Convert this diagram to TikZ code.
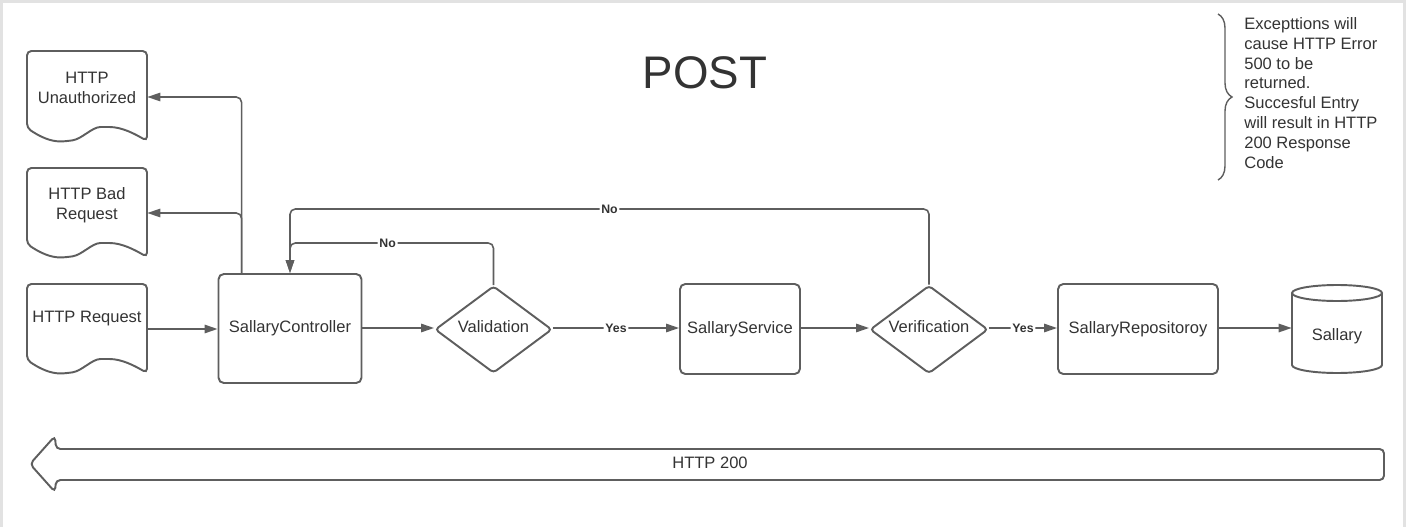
\documentclass[tikz,border=0pt]{standalone}
\usepackage{fontspec}
\setmainfont{Liberation Sans}
\usetikzlibrary{arrows.meta,shapes.geometric,decorations.pathreplacing,calc}
\definecolor{ln}{HTML}{5E5E5E}
\definecolor{tx}{HTML}{333333}
\definecolor{frm}{HTML}{E2E2E2}
\newcommand\mydocshape[3]{%
  \draw[shp, rounded corners=2.5pt] (#1,#3)
    .. controls (#1+18,#3+12) and (#1+28,#3+14) .. (#1+41,#3+13)
    .. controls (#1+55,#3+11) and (#1+65,#3-1) .. (#1+78,#3-1)
    .. controls (#1+95,#3-1) and (#1+108,#3+6) .. (#1+120,#3+13)
    -- (#1+120,#2) -- (#1,#2) -- cycle;}
\begin{document}
\begin{tikzpicture}[x=0.02cm,y=-0.02cm,
  font=\fontsize{9.4}{11.3}\selectfont, text=tx,
  shp/.style={draw=ln, line width=1.1pt},
  box/.style={shp, rectangle, rounded corners=3pt, inner sep=0pt},
  dia/.style={shp, diamond, rounded corners=2pt, inner sep=0pt},
  holder/.style={rectangle, inner sep=0pt},
  conn/.style={draw=ln, line width=0.9pt, rounded corners=3pt, -{Triangle[length=7.4pt,width=4.8pt]}},
  lbl/.style={fill=white, font=\fontsize{7}{8}\selectfont\bfseries, inner sep=1pt, text=tx}]
\useasboundingbox (0,0) rectangle (1406,527);
% frame
\draw[frm, line width=2pt] (1.5,527) -- (1.5,1.5) -- (1404.5,1.5) -- (1404.5,527);

% title
\node[font=\fontsize{26}{30}\selectfont] (title) at (705,72.5) {POST};

% note with brace
\draw[ln, line width=0.8pt, decorate, decoration={brace, amplitude=0.28cm}] (1218,14) -- (1218,180);
\node[anchor=north west, align=left, inner sep=0pt] (note) at (1244,17)
  {Excepttions will\\cause HTTP Error\\500 to be\\returned.\\Succesful Entry\\will result in HTTP\\200 Response\\Code};

% documents
\mydocshape{27}{51}{128}
\node[holder, minimum width=2.4cm, minimum height=1.84cm] (unauth) at (87,97) {};
\node[align=center] (unauthT) at (87,88) {HTTP\\Unauthorized};

\mydocshape{27}{168}{244}
\node[holder, minimum width=2.4cm, minimum height=1.8cm] (bad) at (87,213) {};
\node[align=center] (badT) at (87,205) {HTTP Bad\\Request};

\mydocshape{27}{284}{360}
\node[holder, minimum width=2.4cm, minimum height=1.8cm] (req) at (87,329) {};
\node (reqT) at (87,319) {HTTP Request};

% process nodes
\node[box, minimum width=2.86cm, minimum height=2.18cm] (ctrl) at (290,328.5) {SallaryController};
\node[dia, minimum width=2.34cm, minimum height=1.74cm] (val) at (493.5,329.5) {};
\node (valT) at (493.5,327) {Validation};
\node[box, minimum width=2.4cm, minimum height=1.8cm] (svc) at (740,329) {SallaryService};
\node[dia, minimum width=2.36cm, minimum height=1.76cm] (ver) at (929,329.5) {};
\node (verT) at (929,327) {Verification};
\node[box, minimum width=3.2cm, minimum height=1.8cm] (repo) at (1138,329) {SallaryRepositoroy};

% cylinder
\node[holder, minimum width=1.8cm, minimum height=1.78cm] (db) at (1337,328) {};
\draw[shp] (1292,293) -- (1292,365) arc[start angle=180, end angle=360, x radius=0.9cm, y radius=0.16cm] -- (1382,293);
\draw[shp] (1337,293) ellipse [x radius=45, y radius=8];
\node (dbT) at (1337,336) {Sallary};

% connectors
\draw[conn] (req.east) -- (ctrl.west |- req.east);
\draw[conn] ($(ctrl.north west)+(24,0)$) |- (unauth.east);
\draw[conn] ($(ctrl.north west)+(24,0)$) |- (bad.east);
\draw[conn] (ctrl.east |- 0,328) -- (val.west |- 0,328);
\draw[conn] (val.east |- 0,328) -- node[lbl] {Yes} (svc.west |- 0,328);
\draw[conn] (val.north) -- (val.north |- 0,243) -- node[lbl, pos=0.52] {No} (ctrl.north |- 0,243) -- (ctrl.north);
\draw[conn] (ver.north) -- (ver.north |- 0,209) -- node[lbl] {No} (ctrl.north |- 0,209) -- (ctrl.north);
\draw[conn] (svc.east |- 0,328) -- (ver.west |- 0,328);
\draw[conn] (ver.east |- 0,328) -- node[lbl] {Yes} (repo.west |- 0,328);
\draw[conn] (repo.east |- 0,328) -- (db.west |- 0,328);

% big return arrow
\draw[shp, rounded corners=2.5pt] (30,464) -- (55,436) -- (56,449) -- (1384,449) -- (1384,480) -- (56,480) -- (55,492) -- cycle;
\node (h200) at (710,463) {HTTP 200};
\end{tikzpicture}
\end{document}
